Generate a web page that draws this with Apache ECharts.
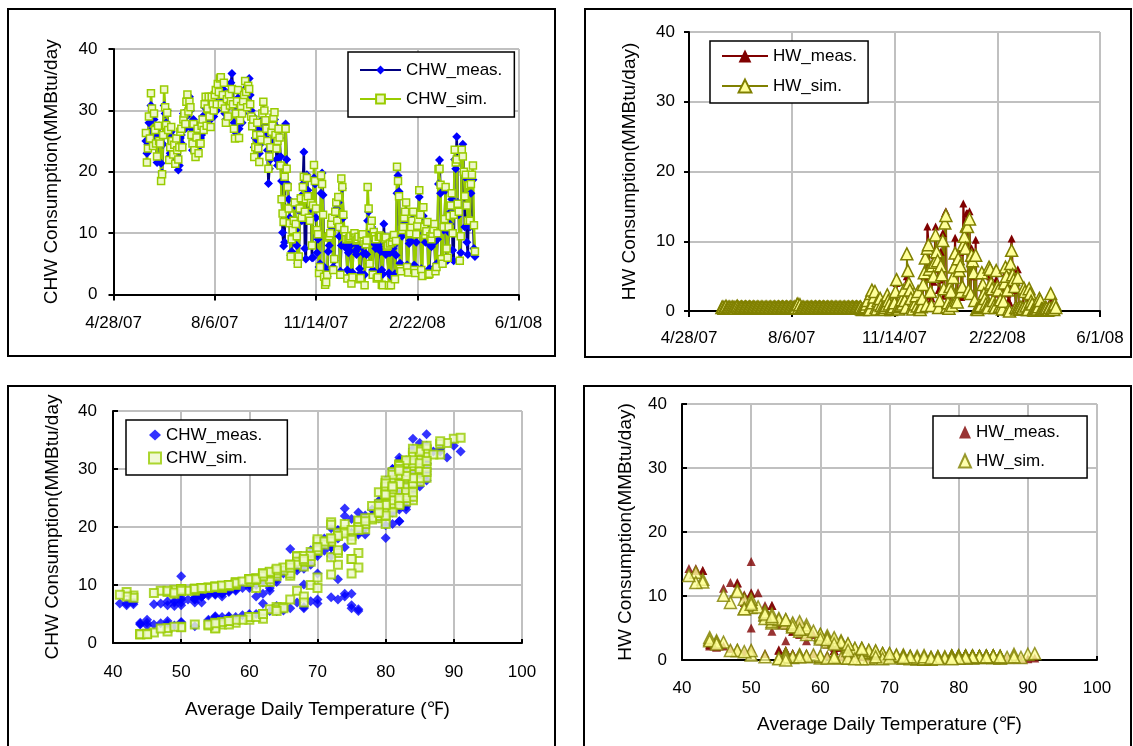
<!DOCTYPE html>
<html>
<head>
<meta charset="utf-8">
<title>CHW / HW consumption</title>
<script src="https://cdn.jsdelivr.net/npm/echarts@6/dist/echarts.min.js"></script>
<style>
  body { margin: 0; background: #fff; overflow: hidden; }
  .frame { position: absolute; border: 2px solid #000; box-sizing: border-box; }
  #main { position: absolute; left: 0; top: 0; width: 1133px; height: 746px; }
</style>
</head>
<body>
<div class="frame" style="left:7px;top:8px;width:549px;height:349px"></div>
<div class="frame" style="left:584px;top:8px;width:548px;height:350px"></div>
<div class="frame" style="left:7px;top:385px;width:549px;height:420px"></div>
<div class="frame" style="left:583px;top:385px;width:549px;height:420px"></div>
<div id="main"></div>
<script>
// daily records, first one is 5/30/07 (day 32 counted from 4/28/07)
var firstDay = 32;

// date axis labels, one every 100 days from 4/28/07
var dateTicks = ['4/28/07', '8/6/07', '11/14/07', '2/22/08', '6/1/08'];

// average daily temperature (F)
var tempF = [
  82,79,80,83,80,
  86,82,81,84,80,82,79,
  83,81,84,75,77,79,85,
  84,80,85,83,79,82,81,
  81,79,83,78,80,81,80,
  82,80,84,81,83,82,85,
  83,86,82,85,84,80,82,
  84,80,79,83,81,80,82,
  81,82,86,80,83,85,84,
  85,84,82,81,86,83,85,
  84,86,85,88,86,90,91,
  83,88,89,86,81,85,82,
  86,82,85,86,84,81,83,
  81,84,85,80,85,82,86,
  83,87,88,85,82,86,84,
  85,81,82,84,79,80,83,
  80,82,78,81,84,83,86,
  82,84,80,83,80,81,79,
  81,80,83,82,84,80,82,
  81,80,76,73,68,72,74,
  81,77,72,69,66,64,67,
  63,62,67,64,61,62,65,
  67,69,66,71,74,73,76,
  73,70,64,66,67,68,75,
  76,73,67,62,57,58,60,
  74,72,66,55,45,48,52,
  50,53,58,62,65,60,63,
  66,68,64,70,63,56,74,
  72,65,60,56,52,55,47,
  49,53,46,50,54,57,52,
  48,50,53,55,50,52,56,
  46,44,43,42,70,68,62,
  60,63,57,58,54,51,48,
  49,52,55,53,45,44,50,
  48,50,43,42,44,41,45,
  49,52,56,47,49,72,73,
  70,62,57,58,61,64,66,
  69,60,56,55,57,60,62,
  67,59,55,56,61,63,71,
  66,58,54,68,60,55,58,
  62,54,55,53,50,56,59,
  62,57,61,57,72,74,70,
  64,62,60,63,71,66,65,
  61,64,68,70,69,76,78,
  77,80,72,66,64,70,79,
  79,76,73,75,75,75,75,
  62,72,76,77,70,68
];

// chilled water, measured (MMBtu/day)
var chwMeas = [
  25.0,23.0,24.5,28.0,26.5,
  30.8,29.0,24.3,28.5,27.0,25.5,21.5,
  26.0,27.5,25.0,21.4,19.8,24.5,30.8,
  29.5,28.0,30.0,27.0,22.4,23.0,26.5,
  25.8,24.0,23.0,22.0,24.5,22.5,20.3,
  21.0,25.5,26.0,24.5,29.5,29.5,27.0,
  29.0,32.0,31.5,32.2,30.0,27.0,23.5,
  28.5,24.5,23.5,24.0,27.5,24.0,25.5,
  25.5,26.0,29.0,27.5,30.5,31.5,28.0,
  31.0,31.5,30.5,28.5,31.0,30.5,29.0,
  31.5,31.0,30.0,33.0,32.5,34.0,33.0,
  31.5,33.5,32.0,29.5,28.5,32.0,30.5,
  33.0,32.0,34.5,36.0,33.5,28.0,26.5,
  30.0,31.5,32.0,27.0,29.0,30.0,28.0,
  29.5,33.0,33.5,32.5,31.0,34.0,35.2,
  32.5,30.0,28.5,29.0,24.0,25.5,27.5,
  27.0,25.0,23.0,24.5,26.5,28.5,30.0,
  28.5,27.5,26.0,23.5,18.1,20.5,22.0,
  25.0,27.0,28.0,28.5,27.5,22.0,21.0,
  26.0,25.5,22.5,18.5,10.1,7.9,8.5,
  27.8,22.0,18.0,15.5,12.5,6.4,7.0,
  9.0,11.0,14.5,10.5,8.0,5.1,6.0,
  13.5,16.0,12.0,18.0,23.2,7.5,5.8,
  19.5,17.0,12.5,12.5,14.0,6.0,6.0,
  19.0,18.0,12.5,6.8,9.0,4.5,5.0,
  16.5,19.8,16.2,4.5,3.5,3.8,2.9,
  7.0,8.0,9.5,10.5,12.0,4.5,5.5,
  13.0,14.0,11.0,15.0,9.5,3.8,8.0,
  17.3,12.5,10.0,8.5,7.5,4.0,6.8,
  7.2,8.0,3.2,3.6,8.5,9.0,7.0,
  6.5,7.5,8.0,4.2,3.5,7.8,8.8,
  6.7,3.2,6.7,6.5,12.0,13.5,5.0,
  10.5,11.0,4.0,9.0,8.2,7.5,3.4,
  3.0,7.8,8.5,7.0,4.0,3.3,11.5,
  7.2,6.5,7.0,6.8,3.5,6.8,3.0,
  7.0,7.5,8.0,3.4,6.4,16.5,19.4,
  16.8,5.1,4.5,9.5,10.5,11.5,12.0,
  13.5,4.8,4.5,8.3,8.8,9.5,10.8,
  13.0,4.8,4.6,8.5,10.0,11.5,15.9,
  12.5,4.2,4.0,12.8,10.0,8.5,9.2,
  11.0,3.8,4.2,8.0,7.8,8.6,9.5,
  8.5,4.6,5.0,9.0,18.0,21.9,16.5,
  5.5,5.0,10.5,11.5,17.0,6.0,5.6,
  10.2,11.5,13.5,15.5,7.2,5.5,22.0,
  20.5,25.7,15.0,13.0,5.5,6.8,23.0,
  24.5,20.0,11.0,19.0,8.5,6.5,18.5,
  11.0,16.5,18.7,18.7,7.5,6.2
];

// chilled water, simulated (MMBtu/day)
var chwSim = [
  26.3,21.5,23.8,29.0,25.4,
  32.8,30.3,24.2,29.5,26.8,24.6,22.5,
  27.5,25.0,24.6,18.5,19.6,26.0,33.4,
  30.5,27.6,29.6,26.8,21.9,24.0,27.3,
  25.0,22.8,24.4,21.3,25.4,23.5,22.0,
  24.0,26.5,27.0,24.0,28.5,29.5,27.8,
  31.4,32.6,29.8,31.4,30.5,26.0,24.6,
  27.8,23.5,22.4,25.6,27.0,23.0,24.6,
  24.6,27.5,28.5,26.8,31.0,32.2,27.5,
  30.3,32.2,29.0,27.3,32.2,31.0,30.0,
  32.5,33.3,31.0,34.3,33.0,35.2,35.4,
  31.0,32.5,34.5,30.3,28.0,31.8,29.0,
  32.6,30.8,31.5,33.5,31.0,27.0,25.4,
  29.5,31.5,33.3,25.5,28.4,30.7,29.5,
  31.5,32.5,34.8,33.0,30.5,34.0,33.5,
  31.0,29.0,27.4,28.5,22.4,24.0,26.0,
  28.0,23.8,21.6,26.0,25.2,29.5,31.4,
  30.0,28.4,27.0,25.0,20.5,22.5,24.0,
  26.5,27.5,28.8,29.7,26.0,23.8,25.0,
  27.0,25.6,21.0,15.5,13.2,11.8,19.2,
  27.0,20.5,17.5,14.0,11.6,6.2,9.0,
  10.5,12.0,15.0,11.5,9.5,5.0,6.2,
  14.0,15.7,12.5,17.5,19.2,13.5,15.5,
  19.0,16.0,12.5,12.0,14.9,8.0,14.5,
  21.1,18.5,14.0,10.5,9.8,3.5,4.5,
  19.4,18.0,13.0,2.9,1.6,2.0,3.2,
  9.3,9.5,10.0,11.5,12.5,4.0,5.8,
  13.5,15.0,12.0,15.9,11.0,3.2,18.9,
  17.5,13.0,10.5,9.5,9.0,2.6,9.0,
  9.2,9.5,1.8,2.8,9.6,10.0,9.3,
  8.8,9.0,9.4,2.5,2.7,9.2,9.8,
  8.6,1.5,8.2,8.8,17.5,14.0,5.0,
  11.0,12.0,3.2,10.2,9.5,9.0,2.6,
  2.8,9.4,9.6,9.4,1.6,1.5,9.2,
  9.0,9.3,7.8,8.0,1.5,8.3,1.5,
  8.5,9.3,9.7,2.5,8.7,20.8,18.5,
  16.0,4.2,3.8,10.5,11.0,12.5,13.5,
  15.0,4.5,3.6,9.8,10.0,11.0,12.0,
  13.5,4.0,3.5,9.8,11.2,12.2,17.0,
  13.0,4.0,3.0,14.2,11.0,9.7,10.3,
  11.8,3.2,3.4,9.5,9.0,9.9,10.6,
  11.5,3.8,4.5,10.0,20.4,20.5,17.9,
  5.8,5.0,11.0,12.3,17.5,7.5,6.0,
  11.0,12.8,14.5,16.5,10.0,13.0,23.6,
  21.5,22.0,14.8,13.5,5.5,9.5,23.6,
  22.5,20.0,16.0,19.5,14.5,12.0,17.8,
  12.0,18.0,19.5,21.0,11.3,7.0
];

// hot water, measured (MMBtu/day)
var hwMeas = [
  0.3,0.2,0.3,0.2,0.4,
  0.2,0.3,0.2,0.4,0.2,0.3,0.2,
  0.3,0.2,0.3,0.4,0.2,0.3,0.2,
  0.3,0.2,0.3,0.2,0.4,0.3,0.2,
  0.3,0.2,0.3,0.2,0.3,0.2,0.3,
  0.2,0.3,0.2,0.3,0.2,0.3,0.2,
  0.3,0.2,0.3,0.2,0.3,0.2,0.3,
  0.2,0.3,0.2,0.3,0.2,0.3,0.2,
  0.3,0.2,0.3,0.2,0.3,0.2,0.3,
  0.2,0.3,0.2,0.3,0.2,0.3,0.2,
  0.3,0.2,0.3,0.2,0.3,0.2,0.3,
  0.2,0.3,0.2,0.3,0.2,0.3,0.2,
  0.3,0.2,0.3,0.2,0.3,0.2,0.3,
  0.2,0.3,0.2,0.3,0.2,0.9,0.3,
  0.2,0.3,0.2,0.3,0.2,0.3,0.2,
  0.3,0.2,0.3,0.2,0.3,0.2,0.3,
  0.2,0.3,0.2,0.3,0.2,0.3,0.2,
  0.3,0.2,0.3,0.2,0.3,0.2,0.3,
  0.2,0.3,0.2,0.3,0.2,0.3,0.2,
  0.3,0.2,0.3,0.2,0.8,0.5,0.3,
  0.2,0.3,0.4,0.8,1.5,0.5,0.3,
  2.0,1.5,1.0,1.8,2.5,0.8,0.4,
  1.2,0.8,1.5,0.6,0.3,0.2,0.3,
  0.4,0.6,1.8,1.2,1.0,0.5,0.3,
  0.2,0.4,1.0,2.5,4.0,0.8,0.5,
  0.5,0.6,1.2,1.5,2.2,1.5,1.0,
  5.0,4.5,3.0,2.0,1.2,0.8,0.5,
  1.0,0.8,1.8,0.5,2.0,1.0,0.3,
  0.5,1.5,3.5,5.0,7.5,1.5,12.1,
  10.0,6.5,2.2,1.8,5.5,4.2,8.0,
  12.1,9.0,6.0,3.0,1.5,8.5,4.5,
  11.2,2.2,14.0,14.3,1.0,1.5,0.8,
  3.0,2.5,1.0,4.5,6.0,10.5,1.6,
  1.2,7.0,5.5,8.5,2.0,2.4,15.4,
  12.0,10.5,14.0,14.0,2.5,14.3,2.2,
  9.0,8.0,5.0,1.8,10.2,0.5,0.4,
  0.6,0.8,1.0,4.0,3.5,2.0,1.5,
  1.0,0.8,1.0,5.5,5.0,3.5,2.8,
  1.5,1.0,1.2,4.5,3.2,2.5,0.8,
  1.5,1.0,1.6,1.2,3.5,5.5,4.5,
  2.5,1.5,1.2,8.5,10.4,6.0,4.0,
  3.0,1.0,0.8,6.0,0.6,0.4,0.8,
  0.5,1.0,3.5,2.5,0.8,0.5,0.4,
  3.0,2.0,1.2,0.8,0.3,0.2,0.2,
  0.3,0.2,0.5,1.5,0.6,0.4,0.2,
  0.3,0.2,0.4,0.3,0.2,0.1,0.3,
  1.5,0.3,0.2,0.2,0.3,0.2
];

// hot water, simulated (MMBtu/day)
var hwSim = [
  0.5,0.6,0.4,0.5,0.7,
  0.4,0.5,0.6,0.5,0.4,0.6,0.5,
  0.5,0.4,0.6,0.7,0.5,0.4,0.5,
  0.6,0.5,0.4,0.5,0.6,0.5,0.4,
  0.5,0.6,0.5,0.4,0.5,0.6,0.5,
  0.4,0.5,0.6,0.5,0.4,0.5,0.6,
  0.5,0.4,0.5,0.6,0.5,0.4,0.5,
  0.6,0.5,0.4,0.5,0.6,0.5,0.4,
  0.5,0.6,0.5,0.4,0.5,0.6,0.5,
  0.4,0.5,0.6,0.5,0.4,0.5,0.6,
  0.5,0.4,0.5,0.6,0.5,0.9,1.0,
  0.5,0.9,0.4,0.5,0.6,0.5,0.4,
  0.5,0.6,0.5,0.4,0.5,0.6,0.5,
  0.4,0.5,0.6,0.5,0.4,0.5,0.6,
  0.5,0.4,0.5,0.6,0.5,0.4,0.5,
  0.6,0.5,0.4,0.5,0.6,0.5,0.4,
  0.5,0.6,0.5,0.4,0.5,0.6,0.5,
  0.4,0.5,0.6,0.5,0.4,0.5,0.6,
  0.5,0.4,0.5,0.6,0.5,0.4,0.5,
  0.6,0.5,0.4,0.5,0.6,0.3,0.2,
  0.4,0.5,0.6,1.0,1.5,0.3,0.2,
  2.5,3.0,1.2,2.0,2.8,0.5,0.3,
  1.5,1.0,1.8,0.8,0.4,0.3,0.2,
  0.5,0.8,2.3,1.5,1.0,0.3,0.2,
  0.4,0.6,1.2,2.8,4.5,0.5,0.3,
  0.6,0.8,1.6,1.0,3.0,1.5,0.5,
  8.2,5.8,4.0,3.0,1.8,0.5,0.3,
  1.2,1.0,2.2,0.7,2.8,0.4,0.2,
  0.6,1.8,3.8,5.5,7.6,0.8,9.0,
  9.5,6.0,2.8,0.8,6.5,5.0,7.0,
  10.9,8.5,7.2,0.5,1.5,6.5,5.2,
  10.1,3.2,12.6,13.7,0.6,1.2,0.4,
  3.5,2.8,0.8,4.8,6.3,8.3,1.5,
  1.3,7.5,5.8,6.5,2.8,3.5,9.5,
  10.7,9.0,12.2,12.1,3.0,13.2,2.5,
  8.0,7.2,5.5,1.5,8.0,0.3,0.2,
  0.5,0.6,0.8,5.5,3.8,2.5,1.8,
  1.0,0.6,0.5,6.3,6.0,4.0,3.2,
  1.5,0.8,0.5,5.8,3.5,3.0,0.6,
  1.6,0.6,0.3,1.4,4.0,6.3,5.0,
  3.0,0.2,0.0,6.8,8.7,5.2,4.5,
  3.5,0.5,0.3,4.8,0.5,0.3,0.6,
  0.3,0.4,3.3,2.8,0.7,0.2,0.2,
  3.2,2.5,1.4,1.0,0.2,0.1,0.3,
  0.4,0.3,0.6,1.8,1.5,0.3,0.3,
  0.2,0.3,0.5,0.4,0.1,0.2,0.5,
  2.5,0.4,0.3,0.2,1.0,0.5
];

var days = tempF.map(function (t, i) { return firstDay + i; });

function pairs(xs, ys) {
  return xs.map(function (x, i) { return [x, ys[i]]; });
}

var myChart = echarts.init(document.getElementById('main'));
var font = 'Liberation Sans, Arial, Helvetica, sans-serif';
var gridLine = { show: true, lineStyle: { color: '#c0c0c0', width: 2 } };
var blackLine = { lineStyle: { color: '#000', width: 2 } };
var labelStyle = { color: '#000', fontSize: 17, fontFamily: font };
var titleStyle = { color: '#000', fontSize: 19, fontFamily: font };

function xDate(idx, margin) {
  return {
    gridIndex: idx, type: 'value', min: 0, max: 400, interval: 100,
    axisLine: blackLine,
    axisTick: { show: true, inside: false, length: 6, lineStyle: { color: '#000', width: 2 } },
    axisLabel: Object.assign({ margin: margin, formatter: function (v) { return dateTicks[v / 100]; } }, labelStyle),
    splitLine: gridLine
  };
}
function xTemp(idx, margin, gap) {
  return {
    gridIndex: idx, type: 'value', min: 40, max: 100, interval: 10,
    name: 'Average Daily Temperature (\u2109)', nameLocation: 'middle', nameGap: gap,
    nameTextStyle: titleStyle,
    axisLine: blackLine,
    axisTick: { show: true, inside: true, length: 4, lineStyle: { color: '#000', width: 2 } },
    axisLabel: Object.assign({ margin: margin }, labelStyle),
    splitLine: gridLine
  };
}
function yCons(idx, name, gap, inside, margin) {
  return {
    gridIndex: idx, type: 'value', min: 0, max: 40, interval: 10,
    name: name, nameLocation: 'middle', nameGap: gap,
    nameTextStyle: titleStyle,
    axisLine: { show: true, lineStyle: { color: '#000', width: 2 } },
    axisTick: { show: true, inside: inside, length: 5, lineStyle: { color: '#000', width: 2 } },
    axisLabel: Object.assign({ margin: margin }, labelStyle),
    splitLine: gridLine
  };
}
function legendBox(names, left, top, w, h, gap, pad) {
  return {
    data: names, orient: 'vertical', left: left, top: top,
    itemWidth: w, itemHeight: h, itemGap: gap, padding: pad,
    borderColor: '#000', borderWidth: 1.5, backgroundColor: '#fff',
    textStyle: { color: '#000', fontSize: 17, lineHeight: 20, fontFamily: font },
    selectedMode: false,
    formatter: function (n) { return n.split('|')[0]; }
  };
}

var meas = { color: '#0000ff' };
var simSq = { color: '#eef7cc', borderColor: '#99cc00', borderWidth: 1.5 };
var hwSimTri = { color: '#ffff99', borderColor: '#808000', borderWidth: 1.5 };

var option = {
  animation: false,
  grid: [
    { left: 113.5, top: 49, width: 405, height: 245.5, show: true, borderColor: '#000', borderWidth: 1 },
    { left: 689, top: 32, width: 411, height: 279, show: true, borderColor: '#000', borderWidth: 1 },
    { left: 113, top: 411, width: 409, height: 232, show: true, borderColor: '#000', borderWidth: 1 },
    { left: 682, top: 404, width: 415, height: 256, show: true, borderColor: '#000', borderWidth: 1 }
  ],
  xAxis: [xDate(0, 20), xDate(1, 19), xTemp(2, 21, 57), xTemp(3, 20, 55)],
  yAxis: [
    yCons(0, 'CHW Consumption(MMBtu/day', 52, false, 16),
    yCons(1, 'HW Consumption(MMBtu/day)', 50, false, 14),
    yCons(2, 'CHW Consumption(MMBtu/day', 51, true, 16),
    yCons(3, 'HW Consumption(MMBtu/day)', 47, true, 15)
  ],
  legend: [
    legendBox(['CHW_meas.|t', 'CHW_sim.|t'], 348, 52, 41, 11, 9, [8, 12, 8, 11]),
    legendBox(['HW_meas.|t', 'HW_sim.|t'], 710, 41, 46, 16, 10, [5, 11, 7, 11]),
    legendBox(['CHW_meas.|s', 'CHW_sim.|s'], 126, 420, 12, 11, 3, [5, 25, 7, 22]),
    legendBox(['HW_meas.|s', 'HW_sim.|s'], 933, 416, 12, 13, 9, [6, 27, 7, 25])
  ],
  series: [
    {
      name: 'CHW_meas.|t', type: 'line', xAxisIndex: 0, yAxisIndex: 0,
      data: pairs(days, chwMeas), symbol: 'diamond', symbolSize: 9,
      lineStyle: { color: '#000080', width: 2.5 }, itemStyle: meas
    },
    {
      name: 'CHW_sim.|t', type: 'line', xAxisIndex: 0, yAxisIndex: 0,
      data: pairs(days, chwSim), symbol: 'rect', symbolSize: 7,
      lineStyle: { color: '#99cc00', width: 2.5 }, itemStyle: simSq
    },
    {
      name: 'HW_meas.|t', type: 'line', xAxisIndex: 1, yAxisIndex: 1,
      data: pairs(days, hwMeas), symbol: 'triangle', symbolSize: 8,
      lineStyle: { color: '#800000', width: 2 }, itemStyle: { color: '#800000' }
    },
    {
      name: 'HW_sim.|t', type: 'line', xAxisIndex: 1, yAxisIndex: 1,
      data: pairs(days, hwSim), symbol: 'triangle', symbolSize: 12,
      lineStyle: { color: '#808000', width: 1.5 }, itemStyle: hwSimTri
    },
    {
      name: 'CHW_meas.|s', type: 'scatter', xAxisIndex: 2, yAxisIndex: 2,
      data: pairs(tempF, chwMeas), symbol: 'diamond', symbolSize: 10, itemStyle: meas
    },
    {
      name: 'CHW_sim.|s', type: 'scatter', xAxisIndex: 2, yAxisIndex: 2,
      data: pairs(tempF, chwSim), symbol: 'rect', symbolSize: 8,
      itemStyle: { color: '#eef7cc', borderColor: '#99cc00', borderWidth: 2 }
    },
    {
      name: 'HW_meas.|s', type: 'scatter', xAxisIndex: 3, yAxisIndex: 3,
      data: pairs(tempF, hwMeas), symbol: 'triangle', symbolSize: 9, itemStyle: { color: '#800000' }
    },
    {
      name: 'HW_sim.|s', type: 'scatter', xAxisIndex: 3, yAxisIndex: 3,
      data: pairs(tempF, hwSim), symbol: 'triangle', symbolSize: 12, itemStyle: hwSimTri
    }
  ]
};

myChart.setOption(option);
</script>
</body>
</html>
